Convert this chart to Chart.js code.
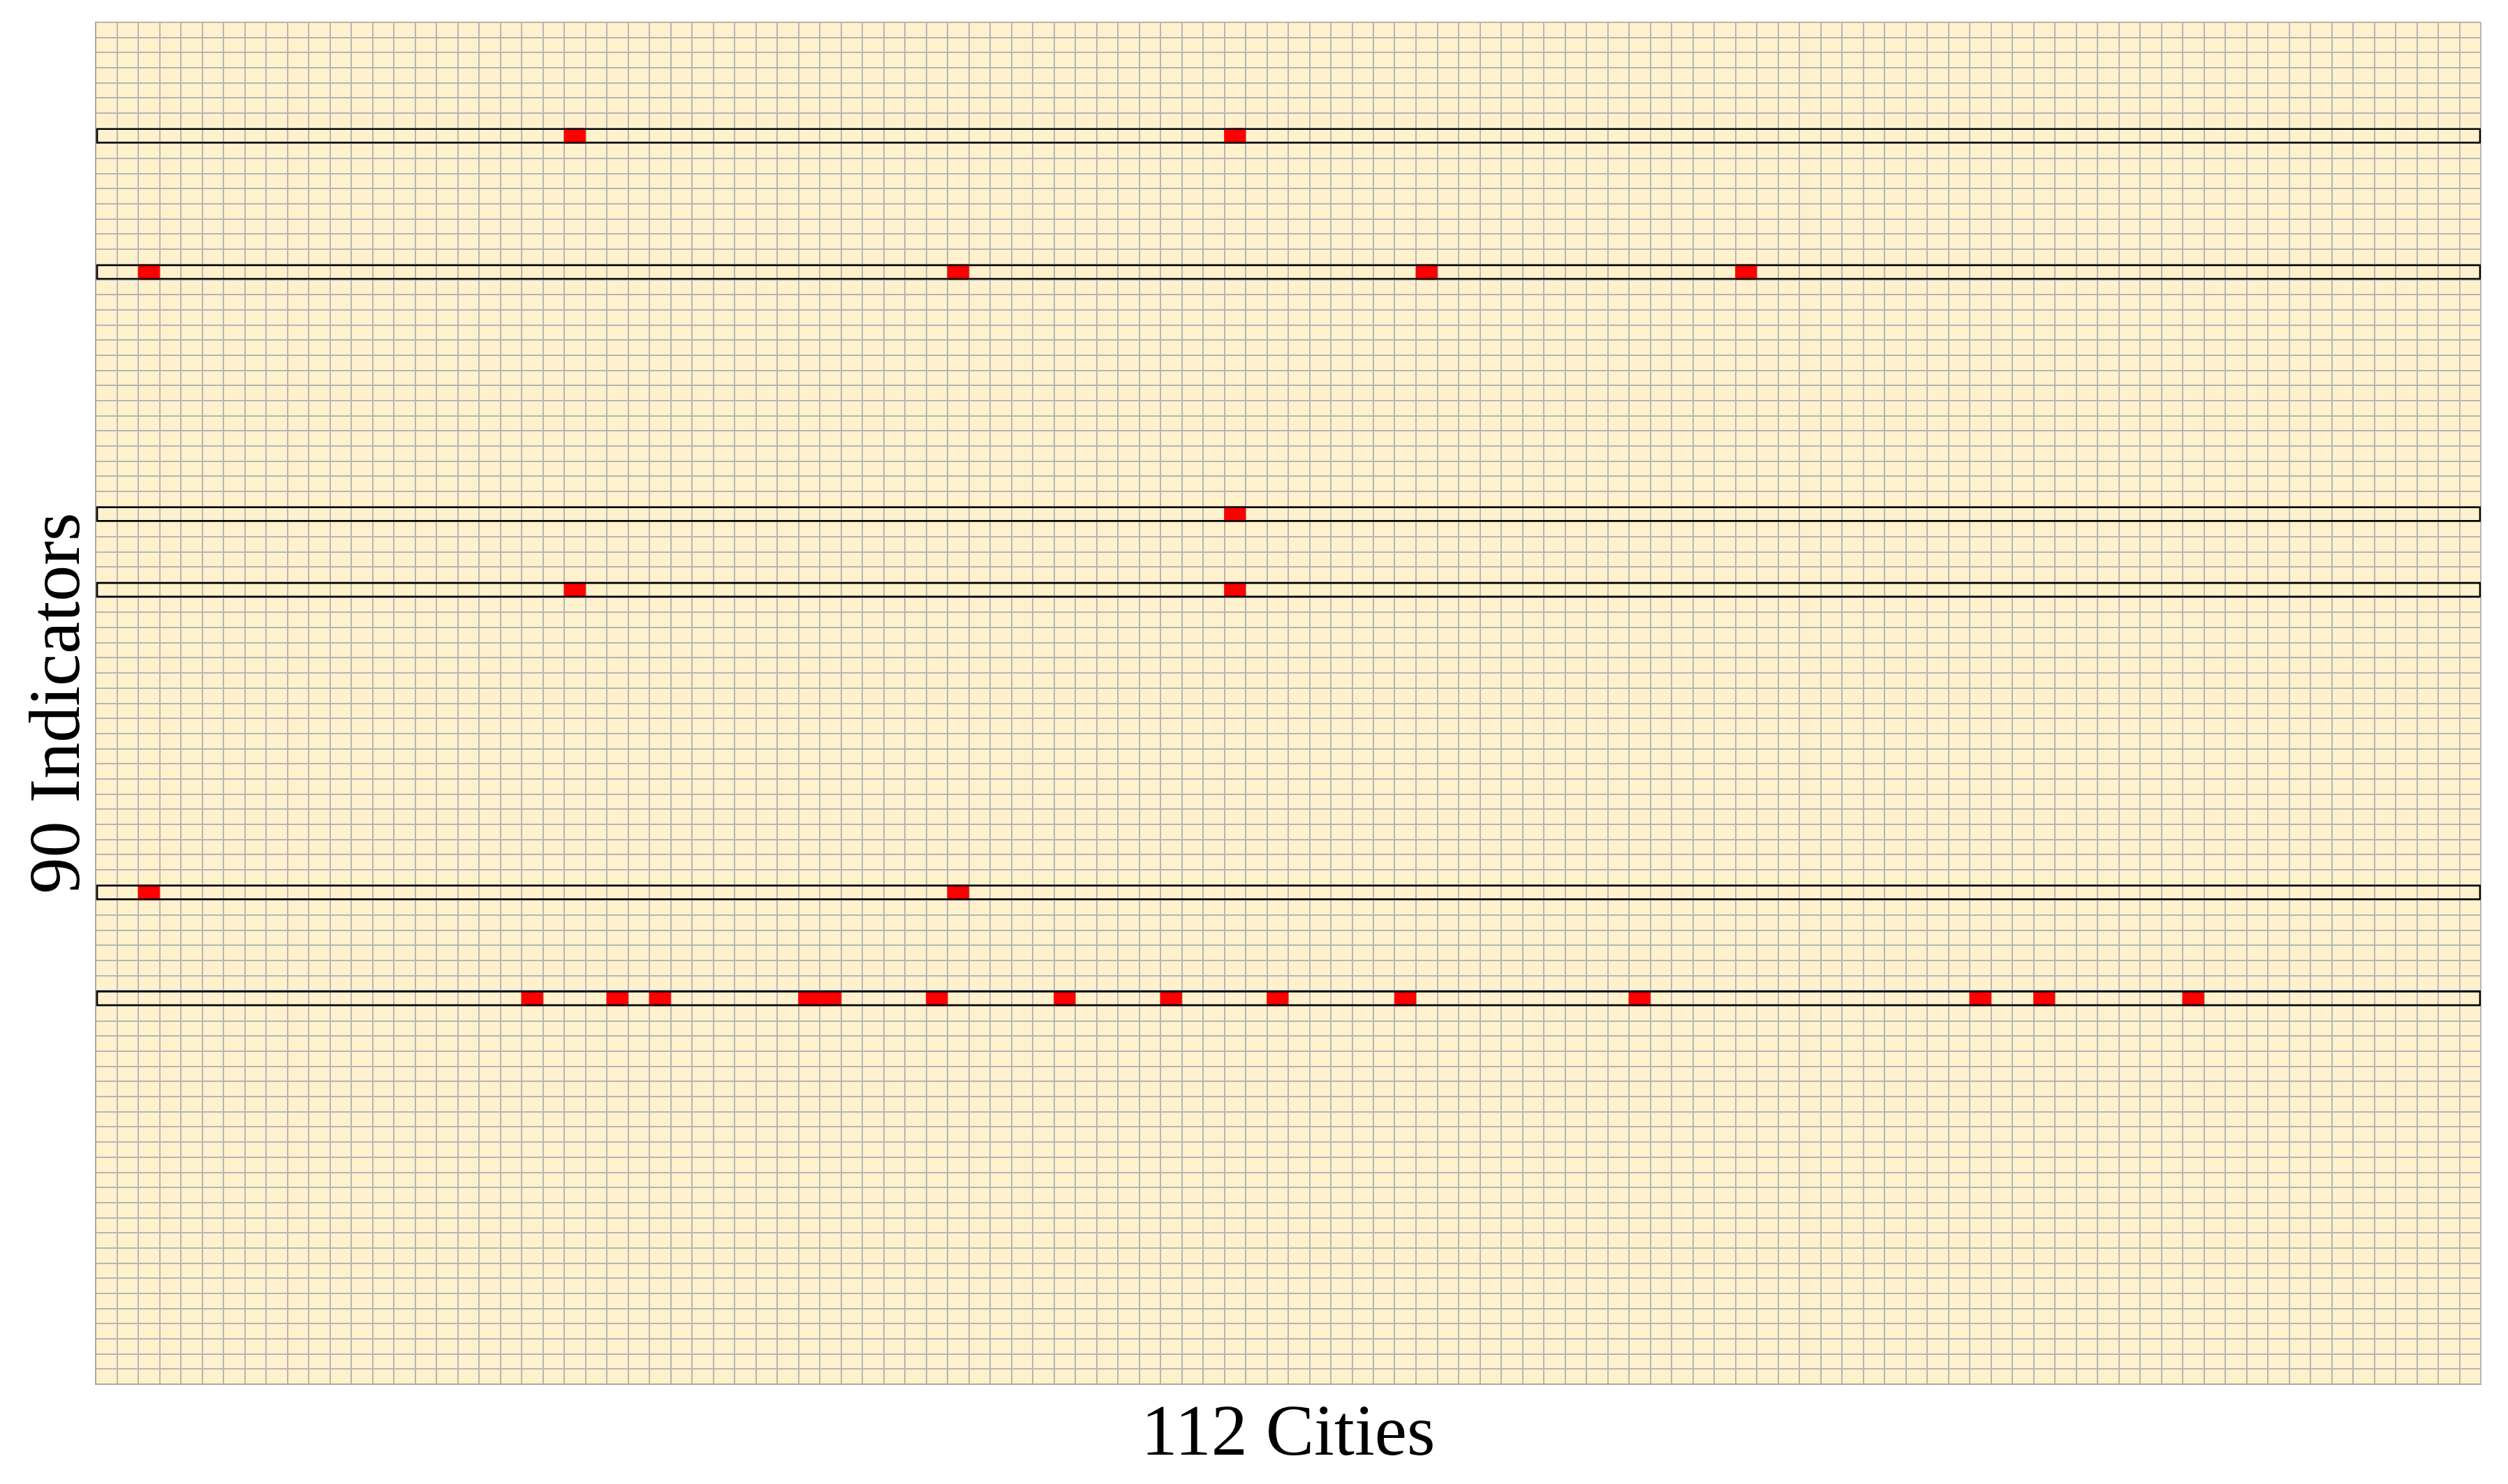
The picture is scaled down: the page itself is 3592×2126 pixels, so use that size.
<!DOCTYPE html>
<html>
<head>
<meta charset="utf-8">
<script src="https://cdn.jsdelivr.net/npm/chart.js@4.4.1/dist/chart.umd.min.js"></script>
<style>
  html, body { margin: 0; padding: 0; background: #ffffff; }
  #wrap { width: 3592px; height: 2126px; position: relative; }
</style>
</head>
<body>
<div id="wrap"><canvas id="c"></canvas></div>
<script>
// ---- data ----
const cityCount = 112;
const indicatorCount = 90;
const indicatorLabels = Array.from({ length: indicatorCount }, (_, i) => String(i + 1));
// rows (0-based, top = 0) outlined in black
const highlightedRows = [7, 16, 32, 37, 57, 64];
// red cells: row index and city (column) index, 0-based
const redCellRows = [7, 7, 16, 16, 16, 16, 32, 37, 37, 57, 57,
                     64, 64, 64, 64, 64, 64, 64, 64, 64, 64, 64, 64, 64, 64];
const redCellCols = [22, 53, 2, 40, 62, 77, 53, 22, 53, 2, 40,
                     20, 24, 26, 33, 34, 39, 45, 50, 55, 61, 72, 88, 91, 98];
const xTitle = '112 Cities';
const yTitle = '90 Indicators';

// ---- build datasets ----
const outlineData = highlightedRows.map(r => ({ x: [0, cityCount], y: indicatorLabels[r] }));
const redData = redCellRows.map((r, i) => ({ x: [redCellCols[i], redCellCols[i] + 1], y: indicatorLabels[r] }));

const bgPlugin = {
  id: 'bg',
  beforeDraw(chart) {
    const { ctx, chartArea: a } = chart;
    ctx.save();
    ctx.fillStyle = '#ffffff';
    ctx.fillRect(0, 0, chart.width, chart.height);
    ctx.fillStyle = '#fff1cc';
    ctx.fillRect(a.left, a.top, a.right - a.left, a.bottom - a.top);
    ctx.restore();
  }
};

const titleFont = { family: '"Liberation Serif", "DejaVu Serif", serif', size: 104 };

new Chart(document.getElementById('c'), {
  type: 'bar',
  data: {
    labels: indicatorLabels,
    datasets: [
      {
        label: 'Highlighted indicators',
        data: outlineData,
        backgroundColor: 'rgba(0,0,0,0)',
        borderColor: '#000000',
        borderWidth: 2,
        borderSkipped: false
      },
      {
        label: 'Flagged cells',
        data: redData,
        backgroundColor: '#ff0000',
        borderWidth: 0
      }
    ]
  },
  options: {
    indexAxis: 'y',
    responsive: true,
    maintainAspectRatio: false,
    animation: false,
    layout: { padding: { left: 0, top: 32, right: 39, bottom: 0 } },
    datasets: { bar: { grouped: false, barPercentage: 1, categoryPercentage: 1 } },
    plugins: { legend: { display: false }, tooltip: { enabled: false } },
    scales: {
      x: {
        type: 'linear',
        position: 'bottom',
        min: 0,
        max: cityCount,
        ticks: { display: false, stepSize: 1, maxTicksLimit: 500 },
        grid: { color: '#b5b5b5', lineWidth: 2, drawTicks: false },
        border: { display: true, color: '#a8a8a8', width: 2 },
        title: {
          display: true, text: xTitle, color: '#000000',
          font: titleFont,
          padding: { top: 0, bottom: 7 }
        },
        afterFit(s) { s.height = 143; }
      },
      y: {
        type: 'category',
        position: 'left',
        offset: true,
        ticks: { display: false, autoSkip: false },
        grid: { offset: true, color: '#b5b5b5', lineWidth: 2, drawTicks: false },
        border: { display: true, color: '#a8a8a8', width: 2 },
        title: {
          display: true, text: yTitle, color: '#000000',
          font: titleFont,
          padding: { top: 23, bottom: 0 }
        },
        afterFit(s) { s.width = 137; }
      }
    }
  },
  plugins: [bgPlugin]
});
</script>
</body>
</html>
